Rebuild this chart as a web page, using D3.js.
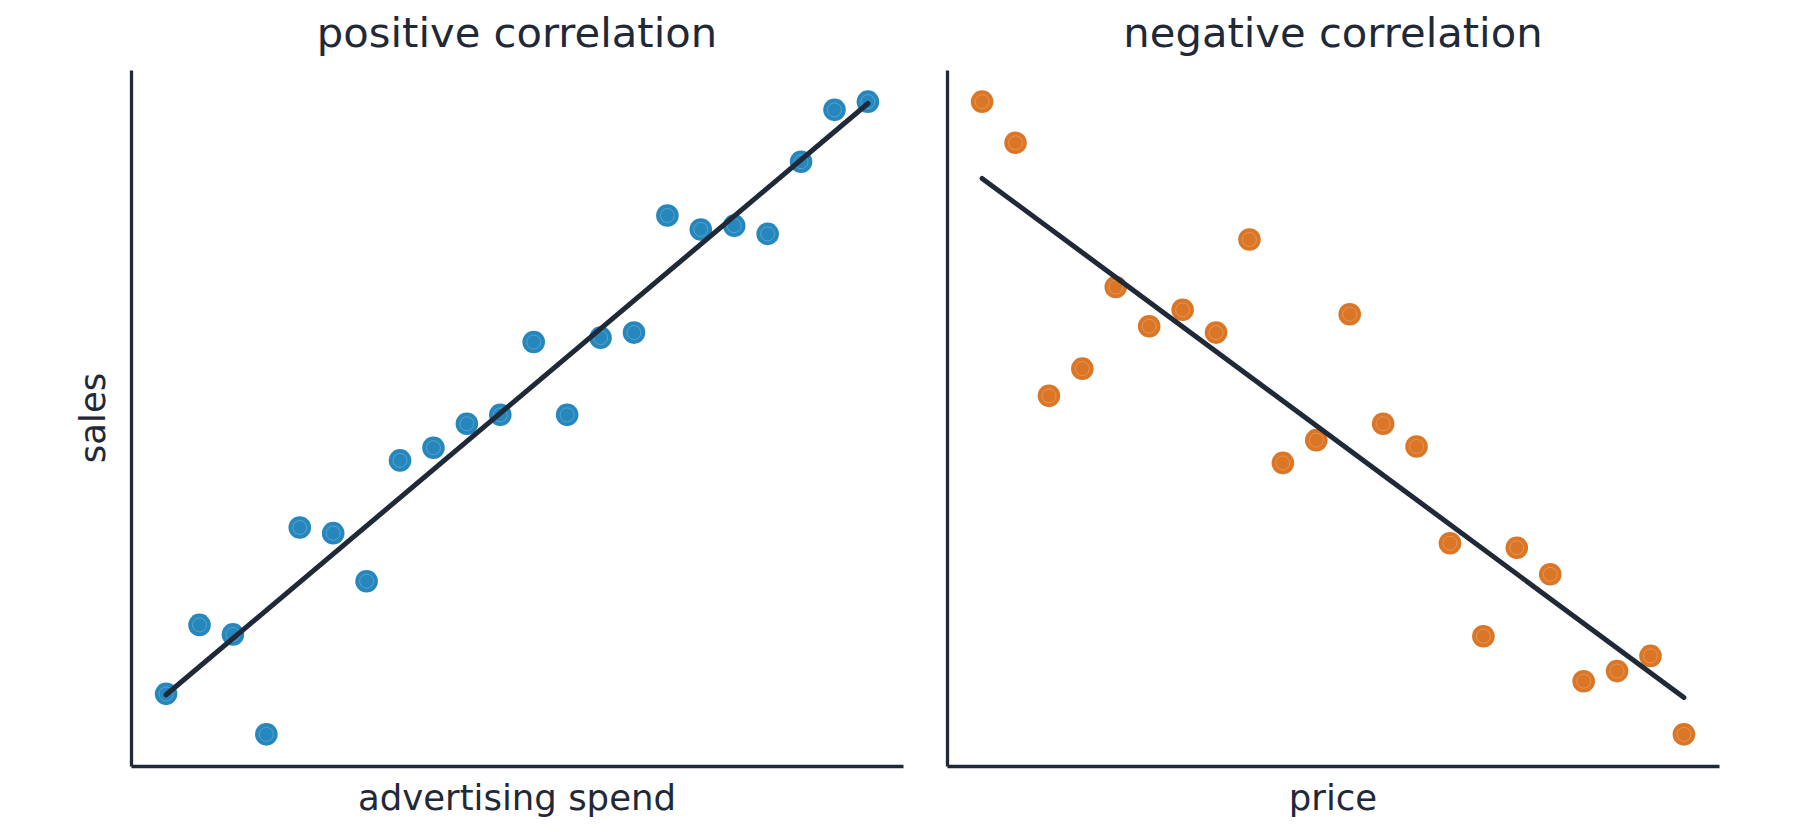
<!DOCTYPE html>
<html>
<head>
<meta charset="utf-8">
<style>
  body { margin: 0; background: #ffffff; }
  text { font-family: "DejaVu Sans", sans-serif; fill: #1f2937; }
</style>
<script src="https://d3js.org/d3.v7.min.js"></script>
</head>
<body>
<svg id="chart"></svg>
<script>
// data (no tick labels on either axis)
var spend = [1, 2, 3, 4, 5, 6, 7, 8, 9, 10, 11, 12, 13, 14, 15, 16, 17, 18, 19, 20, 21, 22];
var sales = [6.4, 17.3, 15.8, 0, 32.7, 31.8, 24.2, 43.3, 45.3, 49.1, 50.5, 62.0,
             50.5, 62.7, 63.5, 82.0, 79.8, 80.4, 79.1, 90.5, 98.7, 100];

var price = [1, 2, 3, 4, 5, 6, 7, 8, 9, 10, 11, 12, 13, 14, 15, 16, 17, 18, 19, 20, 21, 22];
var demand = [100, 93.5, 53.5, 57.8, 70.7, 64.5, 67.1, 63.5, 78.2, 42.9, 46.5, 66.4,
              49.1, 45.5, 30.2, 15.5, 29.5, 25.3, 8.4, 10.0, 12.4, 0];

var titles = ["positive correlation", "negative correlation"];
var xLabels = ["advertising spend", "price"];
var yLabel = "sales";

var W = 1800, H = 832;
var ink = "#1f2937";
var colors = ["#0072b2", "#d55e00"];

var svg = d3.select("#chart").attr("width", W).attr("height", H);

// note: "top" is taken by window.top
var plotTop = 70, plotBottom = 766;
var panels = [
  {left: 131, right: 903, xs: spend, ys: sales, color: colors[0]},
  {left: 947, right: 1719, xs: price, ys: demand, color: colors[1]}
];

// matplotlib style 5% margins
function padded(vals) {
  var e = d3.extent(vals), p = (e[1] - e[0]) * 0.05;
  return [e[0] - p, e[1] + p];
}

function fit(xs, ys) {
  var mx = d3.mean(xs), my = d3.mean(ys);
  var num = d3.sum(xs, function(d, i) { return (d - mx) * (ys[i] - my); });
  var den = d3.sum(xs, function(d) { return (d - mx) * (d - mx); });
  var b = num / den;
  return {a: my - b * mx, b: b};
}

panels.forEach(function(p, k) {
  var x = d3.scaleLinear().domain(padded(p.xs)).range([p.left, p.right]);
  var y = d3.scaleLinear().domain(padded(p.ys)).range([plotBottom, plotTop]);

  var pts = p.xs.map(function(d, i) { return {x: d, y: p.ys[i]}; });
  var g = svg.append("g");

  var dots = g.selectAll(".dot").data(pts).enter().append("g").attr("class", "dot");
  dots.append("circle")
    .attr("cx", function(d) { return x(d.x); })
    .attr("cy", function(d) { return y(d.y); })
    .attr("r", 11.3)
    .attr("fill", p.color)
    .attr("fill-opacity", 0.85);
  dots.append("circle")
    .attr("cx", function(d) { return x(d.x); })
    .attr("cy", function(d) { return y(d.y); })
    .attr("r", 7)
    .attr("fill", "none")
    .attr("stroke", "#ffffff")
    .attr("stroke-opacity", 0.22)
    .attr("stroke-width", 1);

  // fitted line
  var f = fit(p.xs, p.ys);
  var ends = d3.extent(p.xs);
  g.append("path")
    .datum(ends)
    .attr("d", d3.line()
      .x(function(d) { return x(d); })
      .y(function(d) { return y(f.a + f.b * d); }))
    .attr("fill", "none")
    .attr("stroke", ink)
    .attr("stroke-width", 5)
    .attr("stroke-linecap", "round");

  // spines, no ticks
  var xAxis = g.append("g")
    .attr("transform", "translate(0," + plotBottom + ")")
    .call(d3.axisBottom(x).tickValues([]).tickSizeOuter(0));
  var yAxis = g.append("g")
    .attr("transform", "translate(" + p.left + ",0)")
    .call(d3.axisLeft(y).tickValues([]).tickSizeOuter(0));
  xAxis.select(".domain").attr("stroke", ink).attr("stroke-width", 3.3);
  yAxis.select(".domain").attr("stroke", ink).attr("stroke-width", 3.3);

  var cx = (p.left + p.right) / 2;
  g.append("text")
    .attr("x", cx).attr("y", 47)
    .attr("text-anchor", "middle")
    .style("font-size", "41.7px")
    .text(titles[k]);

  g.append("text")
    .attr("x", cx).attr("y", 810)
    .attr("text-anchor", "middle")
    .style("font-size", "35.5px")
    .text(xLabels[k]);
});

svg.append("text")
  .attr("transform", "translate(105," + (plotTop + plotBottom) / 2 + ") rotate(-90)")
  .attr("text-anchor", "middle")
  .style("font-size", "35.5px")
  .text(yLabel);
</script>
</body>
</html>
